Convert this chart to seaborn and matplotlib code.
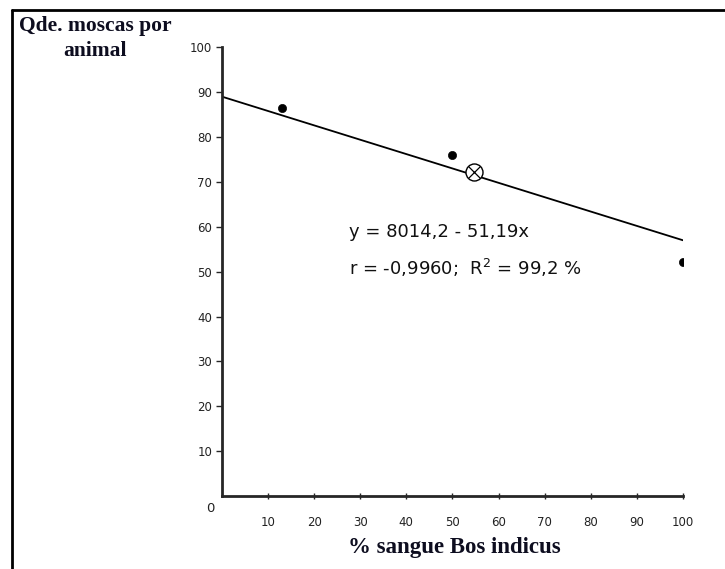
import matplotlib
matplotlib.use("Agg")
import matplotlib.pyplot as plt
import seaborn as sns
import pandas as pd
from matplotlib.lines import Line2D

# values
blood_pct = [13, 50, 100]
flies = [86.4, 75.9, 52.1]
mean_x = [54.7]
mean_y = [72.2]
line_x = [0, 100]
line_y = [89, 57]
x_ticks = [10, 20, 30, 40, 50, 60, 70, 80, 90, 100]
y_ticks = [10, 20, 30, 40, 50, 60, 70, 80, 90, 100]

sns.set_style("ticks")
plt.rcParams['font.family'] = ['DejaVu Sans']

df = pd.DataFrame({"x": blood_pct, "y": flies})

fig = plt.figure(figsize=(7.25, 5.69), dpi=100)
ax = fig.add_axes([0.306, 0.128, 0.636, 0.789])

sns.lineplot(x=line_x, y=line_y, ax=ax, color="black", linewidth=1.3)
sns.scatterplot(data=df, x="x", y="y", ax=ax, color="black", s=35, edgecolor="black")
ax.scatter(mean_x, mean_y, s=150, facecolor="white", edgecolor="black", linewidth=1, zorder=5)
ax.scatter(mean_x, mean_y, s=70, marker="x", color="black", linewidth=0.9, zorder=6)

ax.set_xlim(0, 100)
ax.set_ylim(0, 100)
ax.set_xticks(x_ticks)
ax.set_yticks(y_ticks)
ax.set_xticklabels([str(t) for t in x_ticks], fontsize=8.5, color="#222222")
ax.set_yticklabels([str(t) for t in y_ticks], fontsize=8.5, color="#222222")
ax.tick_params(axis="x", direction="inout", length=5, width=1, pad=12)
ax.tick_params(axis="y", direction="out", length=4, width=1, pad=3)
sns.despine(ax=ax)
for s in ["left", "bottom"]:
    ax.spines[s].set_linewidth(2)
ax.set_xlabel("")
ax.set_ylabel("")

ax.text(-1.5, -1.2, "0", fontsize=9.5, ha="right", va="top", color="#222222")

ax.text(27.5, 58.8, "y = 8014,2 - 51,19x", fontsize=13, color="#111111", va="center")
ax.text(27.5, 50.8, "r = -0,9960;  R$^2$ = 99,2 %", fontsize=13, color="#111111", va="center")

# axis titles in bold serif
fig.text(95 / 725, 1 - 26 / 569, "Qde. moscas por", family="Liberation Serif",
         fontweight="bold", fontsize=15.5, color="#0d0d1f", ha="center", va="center")
fig.text(95 / 725, 1 - 51 / 569, "animal", family="Liberation Serif",
         fontweight="bold", fontsize=15.5, color="#0d0d1f", ha="center", va="center")
fig.text(454 / 725, 1 - 547 / 569, "% sangue Bos indicus", family="Liberation Serif",
         fontweight="bold", fontsize=16.5, color="#0d0d1f", ha="center", va="center")

# frame around the picture (left and top edges visible)
fig.add_artist(Line2D([12 / 725, 12 / 725], [0, 1 - 10 / 569], transform=fig.transFigure,
                      color="black", linewidth=2))
fig.add_artist(Line2D([12 / 725, 1], [1 - 10 / 569, 1 - 10 / 569], transform=fig.transFigure,
                      color="black", linewidth=2))

fig.savefig("out.png", dpi=100, facecolor="white")
